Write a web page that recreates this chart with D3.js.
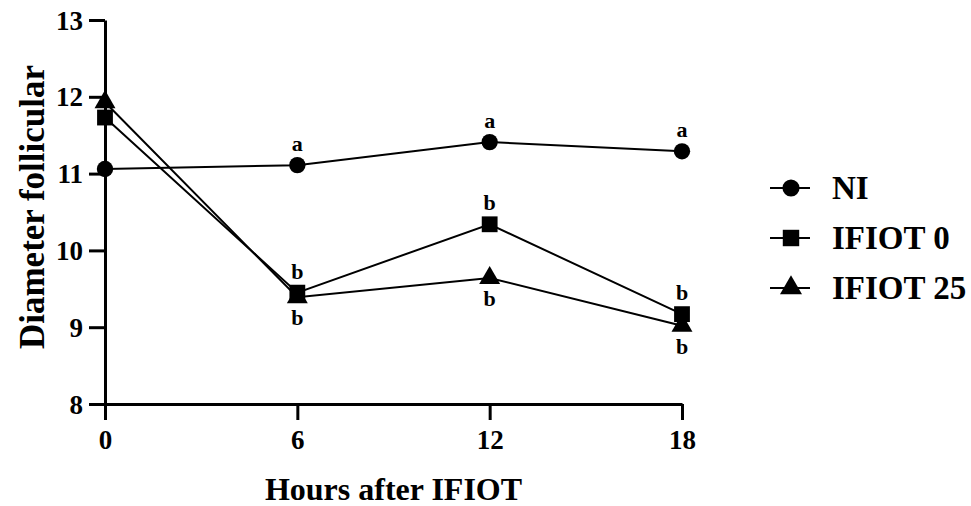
<!DOCTYPE html>
<html>
<head>
<meta charset="utf-8">
<script src="https://cdn.jsdelivr.net/npm/d3@7"></script>
<style>
  body { margin: 0; background: #fff; }
  svg text { font-family: "Liberation Serif", "Times New Roman", serif; font-weight: bold; }
</style>
</head>
<body>
<div id="chart"></div>
<script>
const hours = [0, 6, 12, 18];
const xTicks = [0, 6, 12, 18];
const yTicks = [8, 9, 10, 11, 12, 13];
const seriesNames = ["NI", "IFIOT 0", "IFIOT 25"];
const niValues = [11.06, 11.11, 11.41, 11.29];
const ifiot0Values = [11.73, 9.45, 10.34, 9.17];
const ifiot25Values = [11.93, 9.39, 9.64, 9.02];
const niLetters = ["", "a", "a", "a"];
const ifiot0Letters = ["", "b", "b", "b"];
const ifiot25Letters = ["", "b", "b", "b"];

const width = 971, height = 506;
const serif = '"Liberation Serif", "Times New Roman", serif';

const svg = d3.select("#chart")
    .append("svg")
    .attr("width", width)
    .attr("height", height);

const x = d3.scaleLinear().domain([0, 18]).range([105, 682]);
const y = d3.scaleLinear().domain([8, 13]).range([404, 20]);

// axes
const xAxis = svg.append("g")
    .attr("transform", `translate(0,${y(8)})`)
    .call(d3.axisBottom(x).tickValues(xTicks).tickFormat(d3.format("d"))
        .tickSize(16).tickSizeOuter(0).tickPadding(10));
const yAxis = svg.append("g")
    .attr("transform", `translate(${x(0)},0)`)
    .call(d3.axisLeft(y).tickValues(yTicks).tickFormat(d3.format("d"))
        .tickSize(16).tickSizeOuter(0).tickPadding(6));

[xAxis, yAxis].forEach(g => {
    g.attr("font-family", serif);
    g.select(".domain").attr("stroke", "#000").attr("stroke-width", 3);
    g.selectAll(".tick line").attr("stroke", "#000").attr("stroke-width", 3);
    g.selectAll(".tick text").attr("fill", "#000")
        .style("font-size", "27px").style("font-family", serif).style("font-weight", "bold");
});
yAxis.selectAll(".tick text").attr("dy", "0.34em");

// axis titles
svg.append("text")
    .attr("x", (x(0) + x(18)) / 2)
    .attr("y", 500)
    .attr("text-anchor", "middle")
    .style("font-size", "32px")
    .text("Hours after IFIOT");

svg.append("text")
    .attr("transform", `translate(44,207) rotate(-90)`)
    .attr("text-anchor", "middle")
    .style("font-size", "35px")
    .text("Diameter follicular");

const series = [
    { name: seriesNames[0], values: niValues, letters: niLetters, shape: d3.symbolCircle, size: 210, above: true },
    { name: seriesNames[1], values: ifiot0Values, letters: ifiot0Letters, shape: d3.symbolSquare, size: 250, above: true },
    { name: seriesNames[2], values: ifiot25Values, letters: ifiot25Letters, shape: d3.symbolTriangle, size: 190, above: false }
];

const line = d3.line().x(d => x(d.h)).y(d => y(d.v));

series.forEach(s => {
    const pts = hours.map((h, i) => ({ h, v: s.values[i], l: s.letters[i] }));
    svg.append("path")
        .datum(pts)
        .attr("fill", "none")
        .attr("stroke", "#000")
        .attr("stroke-width", 2)
        .attr("d", line);
    svg.selectAll(null)
        .data(pts)
        .enter()
        .append("path")
        .attr("transform", d => `translate(${x(d.h)},${y(d.v)})`)
        .attr("d", d3.symbol().type(s.shape).size(s.size))
        .attr("fill", "#000");
    svg.selectAll(null)
        .data(pts.filter(d => d.l))
        .enter()
        .append("text")
        .attr("x", d => x(d.h))
        .attr("y", d => s.above ? y(d.v) - 14 : y(d.v) + 28)
        .attr("text-anchor", "middle")
        .style("font-size", "22px")
        .text(d => d.l);
});

// legend
const legend = svg.append("g");
series.forEach((s, i) => {
    const ly = 188 + i * 50;
    legend.append("line")
        .attr("x1", 770).attr("x2", 810)
        .attr("y1", ly).attr("y2", ly)
        .attr("stroke", "#000").attr("stroke-width", 2);
    legend.append("path")
        .attr("transform", `translate(791,${ly})`)
        .attr("d", d3.symbol().type(s.shape).size(s.size + 20))
        .attr("fill", "#000");
    legend.append("text")
        .attr("x", 832)
        .attr("y", ly)
        .attr("dy", "0.34em")
        .style("font-size", "33px")
        .text(s.name);
});
</script>
</body>
</html>
